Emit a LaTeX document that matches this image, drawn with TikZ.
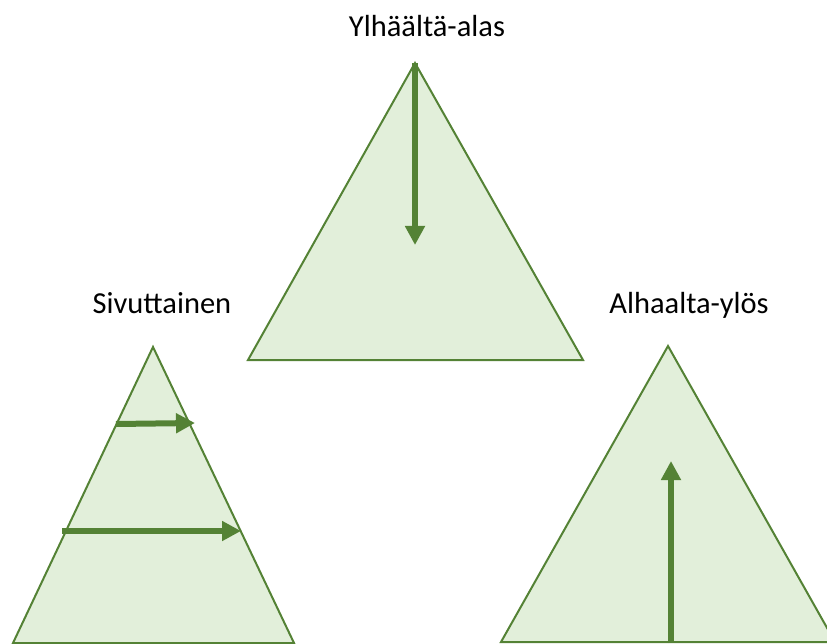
\documentclass[tikz,border=0pt]{standalone}
\usepackage{fontspec}
\setmainfont{Carlito}
\usetikzlibrary{arrows.meta}
\definecolor{pyrline}{HTML}{548235}
\definecolor{pyrfill}{HTML}{E2EFDA}
\begin{document}
\begin{tikzpicture}[x=1pt,y=-1pt,
  pyramid/.style={draw=pyrline,fill=pyrfill,line width=2pt,line join=miter},
  flow/.style={draw=pyrline,line width=6pt,-{Triangle[length=19pt,width=19pt]}},
  caption/.style={font=\fontsize{30.5}{36}\selectfont,text=black,anchor=base,inner sep=0pt}]
\useasboundingbox (0,0) rectangle (827,644);
\clip (0,0) rectangle (827,644);
% top-down pyramid
\coordinate (tApex) at (415,63);
\draw[pyramid] (tApex) -- (583,360) -- (248,360) -- cycle;
\coordinate (tEnd) at (415,245);
\draw[flow] (tApex) -- (tEnd);
\node[caption] (tLabel) at (427,37) {Ylhäältä-alas};
% sideways pyramid
\coordinate (sApex) at (153,347);
\draw[pyramid] (sApex) -- (294,643) -- (13,643) -- cycle;
\coordinate (s1a) at (116,424);
\coordinate (s1b) at (195,423);
\coordinate (s2a) at (62,531);
\coordinate (s2b) at (241,531);
\draw[flow] (s1a) -- (s1b);
\draw[flow] (s2a) -- (s2b);
\node[caption] (sLabel) at (162,313) {Sivuttainen};
% bottom-up pyramid
\coordinate (bApex) at (668,346);
\draw[pyramid] (bApex) -- (835,642) -- (501,642) -- cycle;
\coordinate (bStart) at (671,643);
\coordinate (bEnd) at (671,461);
\draw[flow] (bStart) -- (bEnd);
\node[caption] (bLabel) at (689,313) {Alhaalta-ylös};
\end{tikzpicture}
\end{document}
